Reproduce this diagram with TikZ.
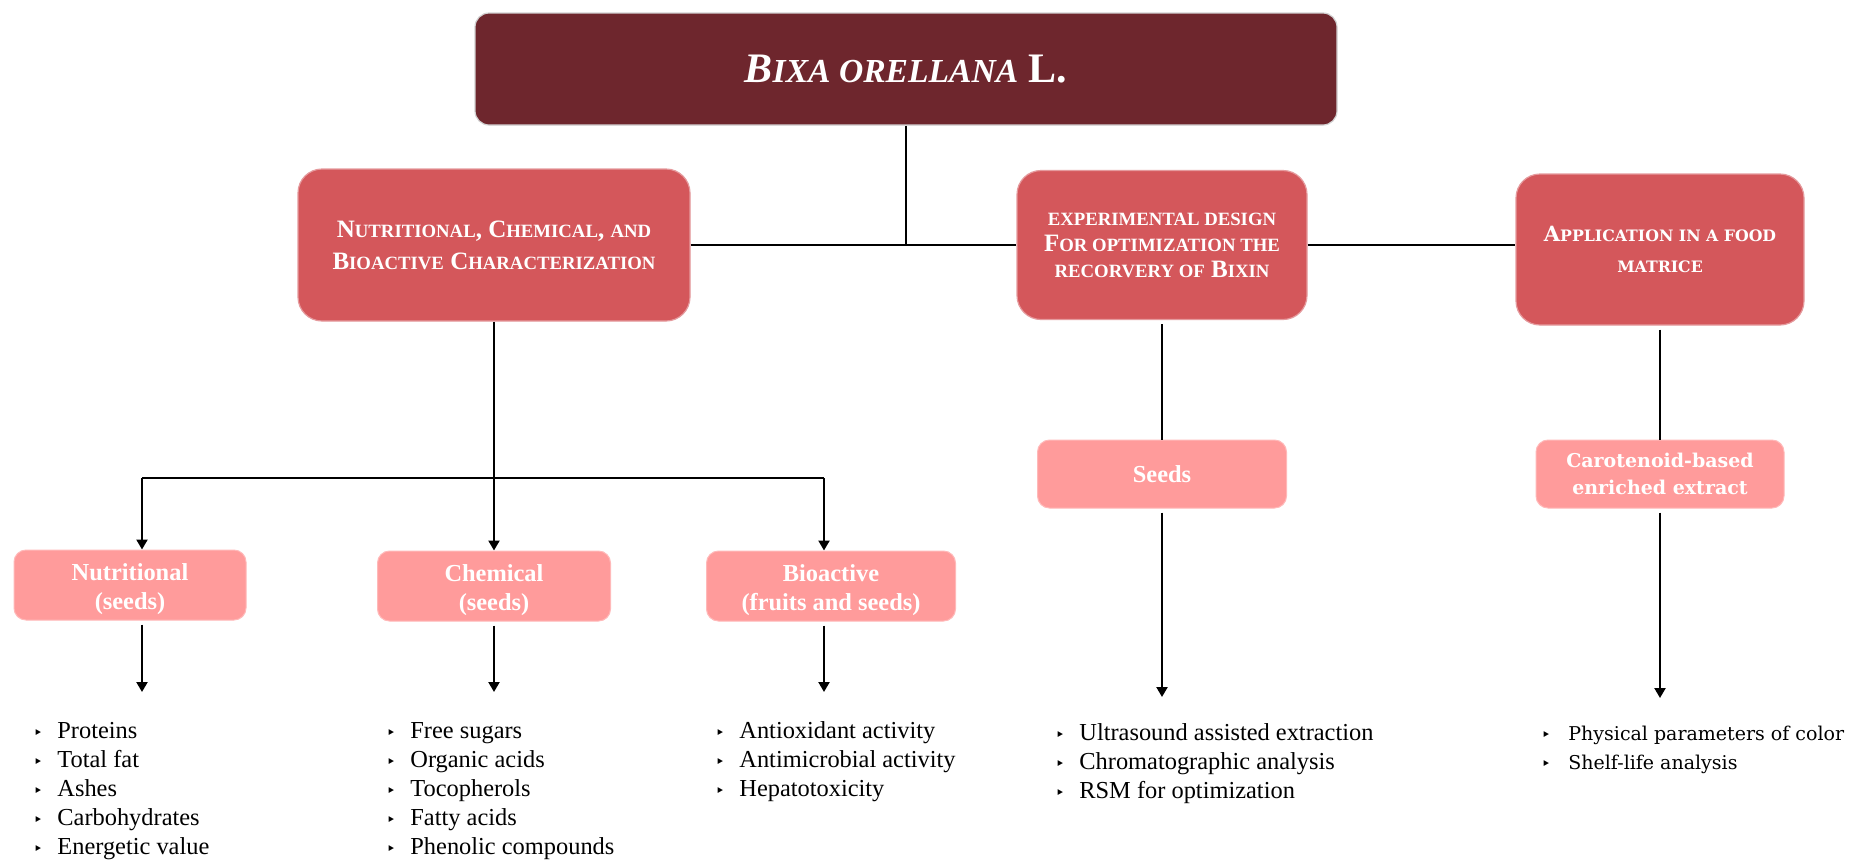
\documentclass[tikz,border=0pt]{standalone}
\usepackage{fontspec}
\usepackage{graphicx}
\setmainfont{Liberation Serif}
\newfontfamily\widefont{DejaVu Serif}
\newfontfamily\bulfont{DejaVu Sans}
\usetikzlibrary{arrows.meta}
\definecolor{titlec}{HTML}{6E262D}
\definecolor{mainc}{HTML}{D4575B}
\definecolor{subc}{HTML}{FF9B9B}
\newcommand\sk[1]{\scalebox{0.75}{#1}}
\newcommand\skt[1]{\scalebox{0.8}{#1}}
\newcommand\bl{\makebox[12pt][l]{\bulfont\fontsize{8}{8}\selectfont ‣}}
\newcommand\blw{\makebox[13.5pt][l]{\bulfont\fontsize{8}{8}\selectfont ‣}}
\newcommand\twol[2]{\raisebox{-5pt}[0pt][0pt]{\begin{tabular}{@{}c@{}}#1\\#2\end{tabular}}}
\tikzset{
  titlebox/.style={fill=titlec, draw=gray!35, line width=0.6pt, rounded corners=7pt, text=white, inner sep=0pt},
  mainbox/.style={fill=mainc, draw=mainc!60!white, line width=0.6pt, rounded corners=12pt, text=white, align=center, inner sep=0pt},
  subbox/.style={fill=subc, draw=subc!70!white, line width=0.5pt, rounded corners=6pt, text=white, align=center, inner sep=0pt,
     font=\bfseries\fontsize{12.2}{14.5}\selectfont},
  conn/.style={line width=1.1pt, black},
  arr/.style={conn, -{Triangle[length=5pt,width=5.5pt]}},
  listnode/.style={inner sep=0pt, anchor=north west, font=\fontsize{12.2}{14.5}\selectfont}
}
\begin{document}
\begin{tikzpicture}[x=0.5pt, y=-0.5pt]
\fill[white] (0,0) rectangle (1854,859);
\useasboundingbox (0,0) rectangle (1854,859);

% top level
\node[titlebox, minimum width=431pt, minimum height=56pt, font=\bfseries\fontsize{21}{24}\selectfont] (title) at (906,69)
  {{\itshape B\skt{IXA ORELLANA}} L.};

\node[mainbox, minimum width=196pt, minimum height=76pt, font=\bfseries\fontsize{12.5}{16}\selectfont] (box1) at (494,245)
  {N\sk{UTRITIONAL}, C\sk{HEMICAL}, \sk{AND}\\B\sk{IOACTIVE} C\sk{HARACTERIZATION}};
\node[mainbox, minimum width=145pt, minimum height=74.5pt, font=\bfseries\fontsize{12.5}{13}\selectfont] (box2) at (1162,245)
  {\sk{EXPERIMENTAL DESIGN}\\F\sk{OR OPTIMIZATION THE}\\\sk{RECORVERY OF} B\sk{IXIN}};
\node[mainbox, minimum width=144pt, minimum height=75.5pt, font=\widefont\bfseries\fontsize{10.5}{15.5}\selectfont] (box3) at (1660,249.5)
  {A\sk{PPLICATION IN A FOOD}\\\sk{MATRICE}};

% second level
\node[subbox, minimum width=116pt, minimum height=35pt] (nut) at (130,585) {\twol{Nutritional}{(seeds)}};
\node[subbox, minimum width=116.5pt, minimum height=35pt] (chem) at (494,586) {\twol{Chemical}{(seeds)}};
\node[subbox, minimum width=124.5pt, minimum height=35pt] (bio) at (831,586) {\twol{Bioactive}{(fruits and seeds)}};
\node[subbox, minimum width=124.5pt, minimum height=34pt] (seeds) at (1162,474) {Seeds};
\node[subbox, minimum width=124pt, minimum height=34pt, font=\widefont\bfseries\fontsize{9.5}{13.5}\selectfont] (car) at (1660,474)
  {Carotenoid-based\\enriched extract};

% lists
\node[listnode] (l1) at (33,718) {\begin{tabular}{@{}l@{}}\bl Proteins\\\bl Total fat\\\bl Ashes\\\bl Carbohydrates\\\bl Energetic value\end{tabular}};
\node[listnode] (l2) at (386,718) {\begin{tabular}{@{}l@{}}\bl Free sugars\\\bl Organic acids\\\bl Tocopherols\\\bl Fatty acids\\\bl Phenolic compounds\end{tabular}};
\node[listnode] (l3) at (715,718) {\begin{tabular}{@{}l@{}}\bl Antioxidant activity\\\bl Antimicrobial activity\\\bl Hepatotoxicity\end{tabular}};
\node[listnode] (l4) at (1055,720) {\begin{tabular}{@{}l@{}}\bl Ultrasound assisted extraction\\\bl Chromatographic analysis\\\bl RSM for optimization\end{tabular}};
\node[listnode, font=\widefont\fontsize{9.5}{14.5}\selectfont] (l5) at (1541,720) {\begin{tabular}{@{}l@{}}\blw Physical parameters of color\\\blw Shelf-life analysis\end{tabular}};

% connectors
\coordinate (jL) at (142,478);
\coordinate (jR) at (824,478);
\coordinate (e1) at (142,692);
\coordinate (e2) at (494,692);
\coordinate (e3) at (824,692);
\coordinate (e4) at (1162,697);
\coordinate (e5) at (1660,698);

\draw[conn] (title.south) -- (title.south |- box1.east);
\draw[conn] (box1.east) -- (box2.west);
\draw[conn] (box2.east) -- (box2.east -| box3.west);
\draw[conn] (box1.south) -- (box1.south |- jL);
\draw[conn] (jL) -- (jR);
\draw[arr] (jL) -- (jL |- nut.north);
\draw[arr] (box1.south |- jL) -- (chem.north);
\draw[arr] (jR) -- (jR |- bio.north);
\draw[arr, shorten <=2pt] (jL |- nut.south) -- (e1);
\draw[arr, shorten <=2pt] (chem.south) -- (e2);
\draw[arr, shorten <=2pt] (jR |- bio.south) -- (e3);
\draw[conn, shorten <=2pt] (box2.south) -- (seeds.north);
\draw[arr, shorten <=2pt] (seeds.south) -- (e4);
\draw[conn, shorten <=2pt] (box3.south) -- (car.north);
\draw[arr, shorten <=2pt] (car.south) -- (e5);
\end{tikzpicture}
\end{document}
